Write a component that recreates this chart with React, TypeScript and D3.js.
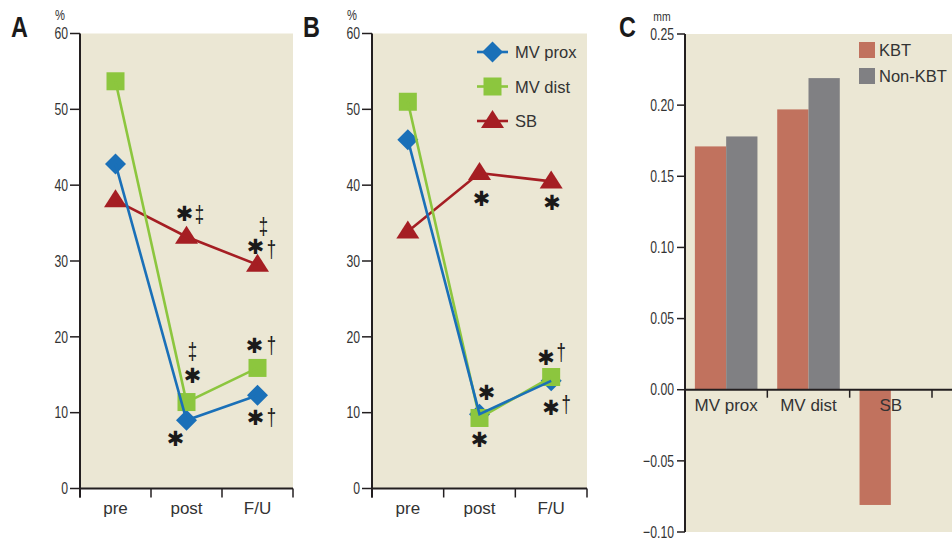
import React from 'react';
import {scaleLinear, scaleBand, line, format} from 'd3';

const times = ['pre', 'post', 'F/U'];
const seriesNames = ['MV prox', 'MV dist', 'SB'];
const aMvProx = [42.8, 9.0, 12.3];
const aMvDist = [53.7, 11.4, 15.9];
const aSb = [38.0, 33.2, 29.5];
const bMvProx = [46.0, 9.8, 14.2];
const bMvDist = [51.0, 9.3, 14.7];
const bSb = [33.9, 41.6, 40.5];
const pctTicks = [0, 10, 20, 30, 40, 50, 60];

const barCategories = ['MV prox', 'MV dist', 'SB'];
const barGroups = ['KBT', 'Non-KBT'];
const kbtValues = [0.171, 0.197, -0.081];
const nonKbtValues = [0.178, 0.219, 0];
const mmTicks = [-0.1, -0.05, 0, 0.05, 0.1, 0.15, 0.2, 0.25];

// significance marks: series index, time index, text, pixel offset from the point
const notesA = [
  {s: 2, t: 1, text: '✱', dx: -2, dy: -23, big: true},
  {s: 2, t: 1, text: '‡', dx: 13, dy: -22},
  {s: 2, t: 2, text: '✱', dx: -2, dy: -18, big: true},
  {s: 2, t: 2, text: '†', dx: 14, dy: -15},
  {s: 2, t: 2, text: '‡', dx: 6, dy: -38},
  {s: 1, t: 1, text: '‡', dx: 6, dy: -51},
  {s: 1, t: 1, text: '✱', dx: 6, dy: -26, big: true},
  {s: 0, t: 1, text: '✱', dx: -11, dy: 19, big: true},
  {s: 1, t: 2, text: '✱', dx: -3, dy: -22, big: true},
  {s: 1, t: 2, text: '†', dx: 14, dy: -23},
  {s: 0, t: 2, text: '✱', dx: -2, dy: 23, big: true},
  {s: 0, t: 2, text: '†', dx: 14, dy: 22},
];
const notesB = [
  {s: 2, t: 1, text: '✱', dx: 2, dy: 26, big: true},
  {s: 2, t: 2, text: '✱', dx: 1, dy: 22, big: true},
  {s: 0, t: 1, text: '✱', dx: 7, dy: -21, big: true},
  {s: 1, t: 1, text: '✱', dx: 0, dy: 22, big: true},
  {s: 1, t: 2, text: '✱', dx: -5, dy: -19, big: true},
  {s: 1, t: 2, text: '†', dx: 10, dy: -25},
  {s: 0, t: 2, text: '✱', dx: 0, dy: 27, big: true},
  {s: 0, t: 2, text: '†', dx: 15, dy: 23},
];

const BG = '#ebe7d4';
const AXIS = '#231f20';
const TXT = '#333333';
const colors = ['#1a70b8', '#8cc63e', '#a51e23'];
const barColors = ['#c1725e', '#808083'];
const SANS = '"Liberation Sans", Arial, sans-serif';

// narrow text: squeeze a regular face horizontally
function NText({x, y, sx = 0.78, anchor = 'start', size = 14, weight = 'normal', fill = TXT, baseline = 'auto', family = SANS, children}) {
  return (
    <text transform={`translate(${x},${y}) scale(${sx},1)`} textAnchor={anchor} dominantBaseline={baseline}
      fill={fill} style={{fontFamily: family, fontSize: size, fontWeight: weight}}>
      {children}
    </text>
  );
}

function Marker({kind, x, y, color}) {
  if (kind === 0) {
    const r = 10.5;
    return <path d={`M${x},${y - r}L${x + r},${y}L${x},${y + r}L${x - r},${y}Z`} fill={color} />;
  }
  if (kind === 1) {
    return <rect x={x - 9} y={y - 9} width={18} height={18} fill={color} />;
  }
  return <path d={`M${x},${y - 11}L${x + 11.5},${y + 7}L${x - 11.5},${y + 7}Z`} fill={color} />;
}

function LinePanel({left, right, series, notes, letter, legend}) {
  const top = 33.5, bottom = 488.5;
  const x = scaleBand().domain(times).range([left, right]);
  const y = scaleLinear().domain([0, 60]).range([bottom, top]);
  const cx = (t) => x(t) + x.bandwidth() / 2;
  const pts = series.map((vals) => vals.map((v, i) => [cx(times[i]), y(v)]));
  const ln = line();
  const bounds = [...times.map((t) => x(t)), right];
  return (
    <g>
      <rect x={left} y={top} width={right - left} height={bottom - top} fill={BG} />
      {pts.map((p, si) => p.map((d, i) => <Marker key={si + '-' + i} kind={si} x={d[0]} y={d[1]} color={colors[si]} />))}
      {[2, 1, 0].map((si) => (
        <path key={si} d={ln(pts[si])} fill="none" stroke={colors[si]} strokeWidth={2.6} />
      ))}
      {notes.map((n, i) => n.big ? (
        <text key={i} x={pts[n.s][n.t][0] + n.dx} y={pts[n.s][n.t][1] + n.dy} textAnchor="middle"
          dominantBaseline="central" fill="#1a1a1a"
          style={{fontFamily: '"DejaVu Sans", sans-serif', fontSize: 21, fontWeight: 'bold'}}>
          {n.text}
        </text>
      ) : (
        <NText key={i} x={pts[n.s][n.t][0] + n.dx} y={pts[n.s][n.t][1] + n.dy} anchor="middle" baseline="central"
          size={24} sx={0.7} fill="#1a1a1a">{n.text}</NText>
      ))}
      {/* y axis */}
      <line x1={left} x2={left} y1={top} y2={bottom + 9} stroke={AXIS} strokeWidth={2} />
      {pctTicks.map((t) => (
        <g key={t}>
          <line x1={left - 10} x2={left} y1={y(t)} y2={y(t)} stroke={AXIS} strokeWidth={1.5} />
          <NText x={left - 12} y={y(t)} anchor="end" baseline="central" size={17} sx={0.72}>{t}</NText>
        </g>
      ))}
      {/* x axis */}
      <line x1={left} x2={right} y1={bottom} y2={bottom} stroke={AXIS} strokeWidth={2} />
      {bounds.map((b, i) => (
        <line key={i} x1={b} x2={b} y1={bottom} y2={bottom + 9} stroke={AXIS} strokeWidth={1.5} />
      ))}
      {times.map((t) => (
        <text key={t} x={cx(t)} y={514} textAnchor="middle" fill={TXT} style={{fontFamily: SANS, fontSize: 17}}>{t}</text>
      ))}
      <NText x={left - 20} y={20} anchor="middle" size={14} sx={0.8}>%</NText>
      <NText x={left - 69} y={37} size={30} weight="bold" sx={0.78} fill="#1a1a1a">{letter}</NText>
      {legend && seriesNames.map((s, i) => {
        const ly = 52 + i * 34.5;
        return (
          <g key={s}>
            <line x1={477} x2={508} y1={ly} y2={ly} stroke={colors[i]} strokeWidth={2.6} />
            <Marker kind={i} x={492.5} y={ly} color={colors[i]} />
            <text x={515} y={ly} dominantBaseline="central" fill={TXT} style={{fontFamily: SANS, fontSize: 16.5}}>{s}</text>
          </g>
        );
      })}
    </g>
  );
}

function BarPanel() {
  const left = 685, right = 932, top = 34, bottom = 532;
  const y = scaleLinear().domain([-0.1, 0.25]).range([bottom, top]);
  const x = scaleBand().domain(barCategories).range([left, right]).paddingInner(0.24).paddingOuter(0.12);
  const xi = scaleBand().domain(barGroups).range([0, x.bandwidth()]);
  const step = x.step();
  const fmt = format('.2f');
  const values = [kbtValues, nonKbtValues];
  return (
    <g>
      <rect x={left} y={top} width={952 - left} height={bottom - top} fill={BG} />
      {barCategories.map((c, ci) => barGroups.map((g, gi) => {
        const v = values[gi][ci];
        return (
          <rect key={c + g} x={x(c) + xi(g)} width={xi.bandwidth()} y={Math.min(y(v), y(0))}
            height={Math.abs(y(v) - y(0))} fill={barColors[gi]} />
        );
      }))}
      <line x1={left} x2={left} y1={top} y2={bottom} stroke={AXIS} strokeWidth={2} />
      {mmTicks.map((t) => (
        <g key={t}>
          <line x1={left - 8} x2={left} y1={y(t)} y2={y(t)} stroke={AXIS} strokeWidth={1.5} />
          <NText x={left - 11} y={y(t)} anchor="end" baseline="central" size={17} sx={0.72}>{fmt(t)}</NText>
        </g>
      ))}
      <line x1={left} x2={952} y1={y(0)} y2={y(0)} stroke={AXIS} strokeWidth={2} />
      {barCategories.map((c, i) => (
        <line key={c} x1={left + step * (i + 1)} x2={left + step * (i + 1)} y1={y(0)} y2={y(0) + 8} stroke={AXIS} strokeWidth={1.5} />
      ))}
      {barCategories.map((c) => (
        <text key={c} x={x(c) + x.bandwidth() / 2} y={y(0) + 21} textAnchor="middle" fill={TXT}
          style={{fontFamily: SANS, fontSize: 17}}>{c}</text>
      ))}
      <NText x={662} y={21} anchor="middle" size={13} sx={0.8}>mm</NText>
      <NText x={619} y={37} size={30} weight="bold" sx={0.78} fill="#1a1a1a">C</NText>
      {barGroups.map((g, i) => (
        <g key={g}>
          <rect x={859} y={42 + i * 26} width={16} height={16} fill={barColors[i]} />
          <text x={879} y={50 + i * 26} dominantBaseline="central" fill={TXT} style={{fontFamily: SANS, fontSize: 16.5}}>{g}</text>
        </g>
      ))}
    </g>
  );
}

export default function App() {
  return (
    <svg width={952} height={538} style={{position: 'absolute', left: 0, top: 0, background: '#fff'}}>
      <LinePanel left={80} right={293} series={[aMvProx, aMvDist, aSb]} notes={notesA} letter="A" />
      <LinePanel left={372} right={587} series={[bMvProx, bMvDist, bSb]} notes={notesB} letter="B" legend />
      <BarPanel />
    </svg>
  );
}
